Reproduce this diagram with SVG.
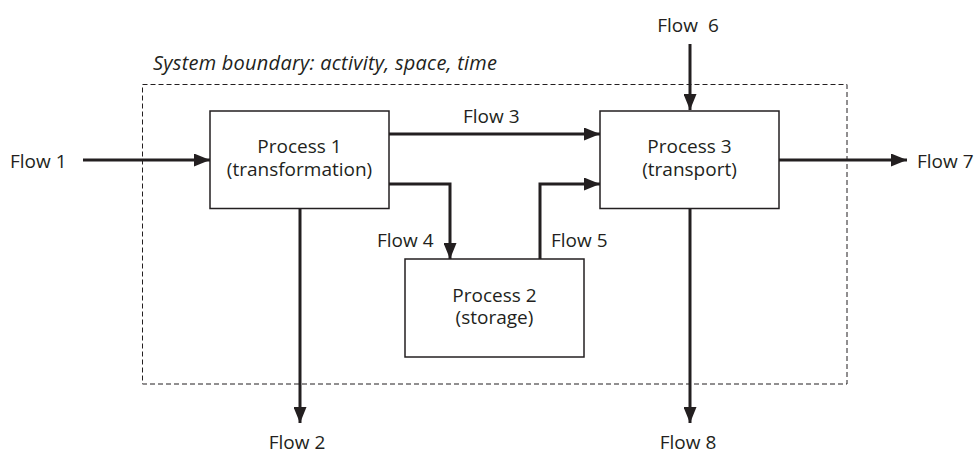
<svg xmlns="http://www.w3.org/2000/svg" width="978" height="455" viewBox="0 0 978 455">
<style>
text{font-family:"Open Sans","Noto Sans","Liberation Sans",sans-serif;font-size:19px;fill:#231f20}
.c{text-anchor:middle}
.box{fill:#fff;stroke:#231f20;stroke-width:1.5}
.flow{fill:none;stroke:#231f20;stroke-width:3;marker-end:url(#ah)}
.bound{fill:none;stroke:#231f20;stroke-width:1;stroke-dasharray:5 3}
</style>
<defs>
<marker id="ah" markerUnits="userSpaceOnUse" markerWidth="16" markerHeight="13" refX="16" refY="6.5" orient="auto">
<path d="M0,0 L16,6.5 L0,13 Z" fill="#231f20"/>
</marker>
</defs>
<rect width="978" height="455" fill="#fff"/>
<g id="boundary">
<rect class="bound" x="142.5" y="84.5" width="704.5" height="299.5"/>
<text x="153" y="70" style="font-style:italic;font-size:20px" textLength="344" lengthAdjust="spacing">System boundary: activity, space, time</text>
</g>
<g id="connectors">
<path class="flow" d="M83,160 H210"/>
<path class="flow" d="M300,209 V423"/>
<path class="flow" d="M389,134 H600"/>
<path class="flow" d="M389,184 H450 V259"/>
<path class="flow" d="M540,259 V184 H600"/>
<path class="flow" d="M690,44 V110"/>
<path class="flow" d="M779,160 H907"/>
<path class="flow" d="M690,209 V423"/>
<text x="10" y="168">Flow 1</text>
<text class="c" x="297" y="449">Flow 2</text>
<text x="463" y="123">Flow 3</text>
<text x="377" y="247">Flow 4</text>
<text x="551" y="247">Flow 5</text>
<text class="c" x="688" y="32" xml:space="preserve">Flow  6</text>
<text x="917" y="168">Flow 7</text>
<text class="c" x="688" y="449">Flow 8</text>
</g>
<g id="process1">
<rect class="box" x="210" y="111" width="179" height="97.5"/>
<text class="c" x="299.5" y="153">Process 1</text>
<text class="c" x="299.5" y="176">(transformation)</text>
</g>
<g id="process2">
<rect class="box" x="405" y="259" width="179" height="98"/>
<text class="c" x="494.5" y="302">Process 2</text>
<text class="c" x="494.5" y="324">(storage)</text>
</g>
<g id="process3">
<rect class="box" x="600" y="111" width="179" height="97.5"/>
<text class="c" x="689.5" y="153">Process 3</text>
<text class="c" x="689.5" y="176">(transport)</text>
</g>
</svg>
